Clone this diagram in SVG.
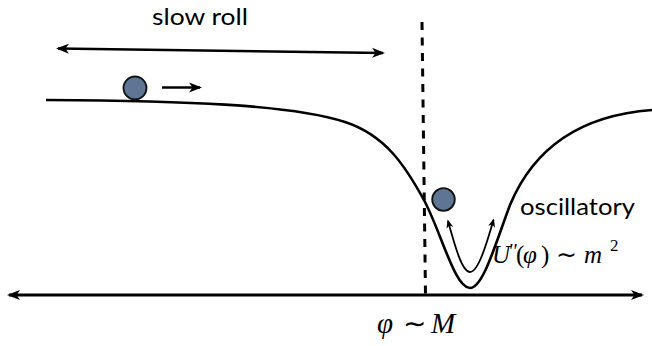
<svg xmlns="http://www.w3.org/2000/svg" width="652" height="346" viewBox="0 0 652 346">
<style>
  .ln { fill: none; stroke: #000; stroke-linecap: butt; }
  .ball { fill: #5f7594; stroke: #111; stroke-width: 1.8; }
  .sans { font-family: Lato, "Open Sans", "Liberation Sans", sans-serif; font-size: 23px; fill: #000; }
  .math { font-family: "Liberation Serif", "DejaVu Serif", serif; fill: #000; }
  .it { font-style: italic; }
  .tilde { font-family: "DejaVu Sans", sans-serif; font-style: normal; }
</style>
<defs>
  <marker id="ah" markerUnits="userSpaceOnUse" markerWidth="14" markerHeight="12" refX="11" refY="5" orient="auto-start-reverse" viewBox="0 0 14 10">
    <path d="M0,0 L13,5 L0,10 L3.5,5 Z" fill="#000"/>
  </marker>
  <marker id="ahs" markerUnits="userSpaceOnUse" markerWidth="9" markerHeight="8" refX="7" refY="3.5" orient="auto-start-reverse" viewBox="0 0 9 7">
    <path d="M0,0 L8.5,3.5 L0,7 L2.2,3.5 Z" fill="#000"/>
  </marker>
</defs>

<g id="connectors">
  <line id="axis" class="ln" x1="9" y1="295" x2="642" y2="295" stroke-width="3" marker-start="url(#ah)" marker-end="url(#ah)"/>
  <line id="slowroll-arrow" class="ln" x1="58" y1="48.5" x2="383" y2="53" stroke-width="2.6" marker-start="url(#ah)" marker-end="url(#ah)"/>
  <line id="ball-arrow" class="ln" x1="162" y1="87.5" x2="200" y2="87.5" stroke-width="2.6" marker-end="url(#ah)"/>
  <line id="dashed" class="ln" x1="422" y1="22" x2="425.5" y2="295" stroke-width="3" stroke-dasharray="8,7.5"/>
  <path id="osc-arrow" class="ln" d="M448,221 C455,246 462,272 470,272 C478,272 486,246 493.5,220" stroke-width="1.8" marker-start="url(#ahs)" marker-end="url(#ahs)"/>
</g>

<g id="potential">
  <path class="ln" stroke-width="2.6" d="M46,100 C180,101 290,104 345,122 C385,135 405,165 425,202 C442,235 455,288 470,288 C483,288 495,245 510,205 C535,145 585,115 652,110"/>
</g>

<g id="ball-slow">
  <circle class="ball" cx="135" cy="88" r="11.5"/>
</g>
<g id="ball-osc">
  <circle class="ball" cx="443.5" cy="199.5" r="11.3"/>
</g>

<g id="label-slowroll">
  <text class="sans" x="152" y="25" textLength="96" lengthAdjust="spacingAndGlyphs">slow roll</text>
</g>
<g id="label-osc">
  <text class="sans" x="520" y="215" font-size="24" textLength="115" lengthAdjust="spacingAndGlyphs">oscillatory</text>
</g>
<g id="label-U">
  <text class="math" y="263" font-size="25"><tspan class="it" x="492">U</tspan><tspan class="it" x="508" y="258" font-size="20">''</tspan><tspan x="516" y="263">(</tspan><tspan class="it" x="523">φ</tspan><tspan x="541">)</tspan><tspan class="tilde" x="556" font-size="25">∼</tspan><tspan class="it" x="584">m</tspan><tspan x="610" y="251" font-size="17">2</tspan></text>
</g>
<g id="label-M">
  <text class="math" y="333" font-size="29"><tspan class="it" x="377">φ</tspan><tspan class="tilde" x="403" font-size="28">∼</tspan><tspan class="it" x="431">M</tspan></text>
</g>
</svg>
